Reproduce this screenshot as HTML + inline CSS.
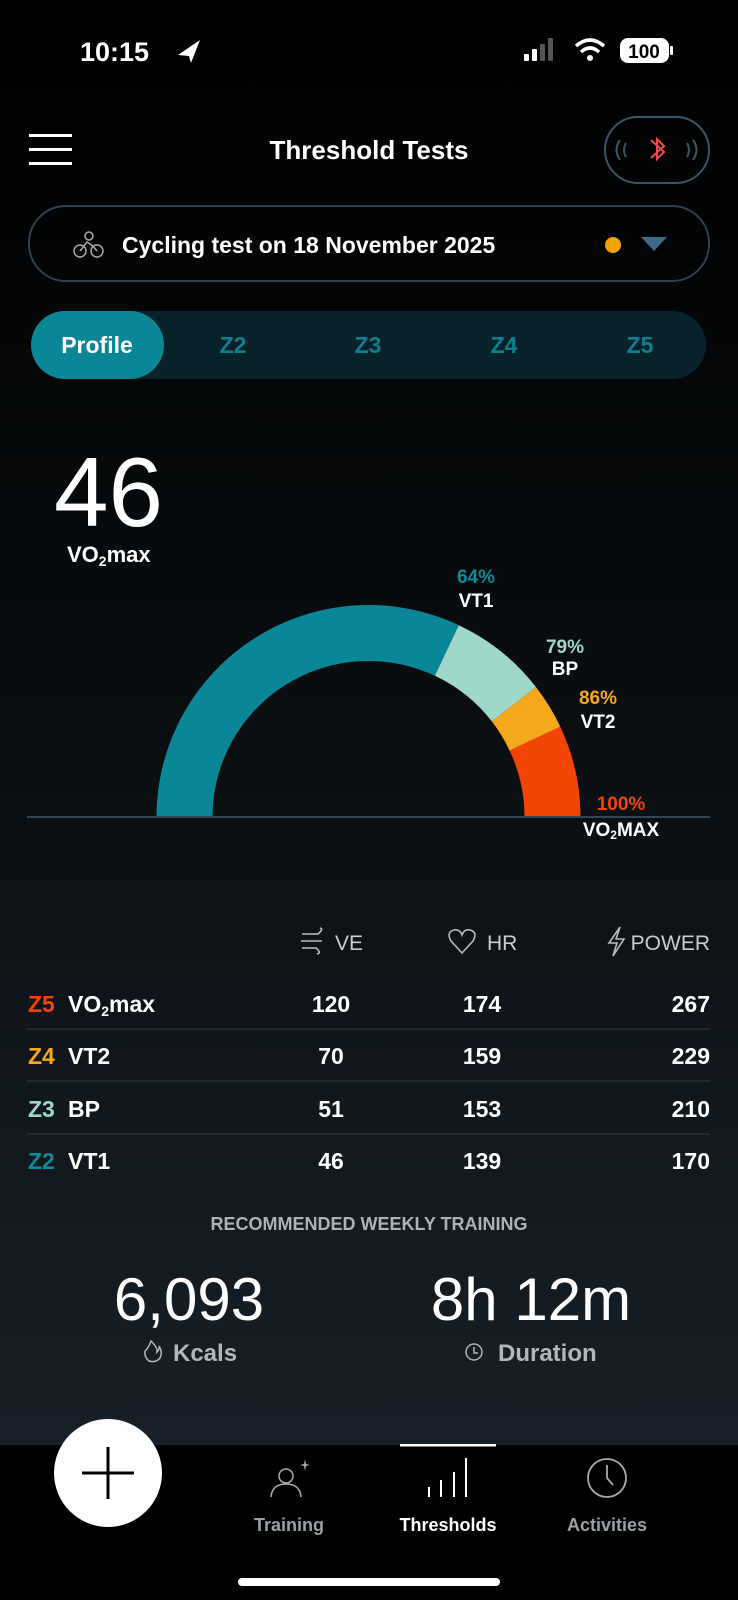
<!DOCTYPE html>
<html><head><meta charset="utf-8"><style>
html,body{margin:0;padding:0;background:#000;}
body{width:738px;height:1600px;overflow:hidden;}
svg{display:block}
text{font-family:"Liberation Sans",sans-serif;}
</style></head><body>
<svg width="738" height="1600" viewBox="0 0 738 1600" xmlns="http://www.w3.org/2000/svg">
<defs>
<linearGradient id="bg" x1="0" y1="0" x2="0" y2="1445" gradientUnits="userSpaceOnUse">
<stop offset="0" stop-color="#000"/>
<stop offset="0.25" stop-color="#040607"/>
<stop offset="0.6" stop-color="#0c1115"/>
<stop offset="1" stop-color="#172028"/>
</linearGradient>
</defs>
<rect width="738" height="1600" fill="url(#bg)"/>
<!-- status bar -->
<text x="80" y="61" font-size="27" font-weight="bold" fill="#fff">10:15</text>
<path d="M178 55 L200 40 L191 63 L189 56 Z" fill="#fff"/>
<rect x="524" y="54" width="5" height="7" rx="1" fill="#fff"/>
<rect x="532" y="49" width="5" height="12" rx="1" fill="#fff"/>
<rect x="540" y="44" width="5" height="17" rx="1" fill="#555"/>
<rect x="548" y="38" width="5" height="23" rx="1" fill="#555"/>
<path d="M576 46 Q590 34 604 46" stroke="#fff" stroke-width="3.5" fill="none"/>
<path d="M581 52 Q590 44 599 52" stroke="#fff" stroke-width="3.5" fill="none"/>
<circle cx="590" cy="58" r="3" fill="#fff"/>
<rect x="620" y="38" width="49" height="25" rx="8" fill="#fff"/>
<rect x="670" y="46" width="3" height="9" rx="1" fill="#fff"/>
<text x="644" y="58" font-size="19" font-weight="bold" fill="#000" text-anchor="middle">100</text>
<!-- header -->
<rect x="29" y="134" width="43" height="3" fill="#fff"/>
<rect x="29" y="148" width="43" height="3" fill="#fff"/>
<rect x="29" y="162" width="43" height="3" fill="#fff"/>
<text x="369" y="159" font-size="26" font-weight="bold" fill="#fff" text-anchor="middle">Threshold Tests</text>
<rect x="605" y="117" width="104" height="66" rx="33" fill="none" stroke="#3a5566" stroke-width="2"/>
<path d="M620 140 Q613 150 620 160 M626 143 Q622 150 626 157 M693 140 Q700 150 693 160 M687 143 Q691 150 687 157" stroke="#3a5566" stroke-width="2" fill="none"/>
<path d="M651 140 L664 152 L657 159 L657 139 L664 146 L651 158" stroke="#f04a4a" stroke-width="2" fill="none"/>
<!-- dropdown -->
<rect x="29" y="206" width="680" height="75" rx="37" fill="none" stroke="#2f4150" stroke-width="2"/>
<circle cx="89" cy="236" r="4" fill="none" stroke="#aaa" stroke-width="1.5"/>
<circle cx="80" cy="251" r="6" fill="none" stroke="#aaa" stroke-width="1.5"/>
<circle cx="97" cy="251" r="6" fill="none" stroke="#aaa" stroke-width="1.5"/>
<path d="M80 251 L87 242 L93 246 L97 251" stroke="#aaa" stroke-width="1.5" fill="none"/>
<text x="122" y="253" font-size="23" font-weight="bold" fill="#fff">Cycling test on 18 November 2025</text>
<circle cx="613" cy="245" r="8" fill="#f5a300"/>
<path d="M641 237 L667 237 L654 251 Z" fill="#3d6a8a"/>
<!-- segments -->
<rect x="31" y="311" width="675" height="68" rx="34" fill="#07222a"/>
<rect x="31" y="311" width="133" height="68" rx="34" fill="#0a8696"/>
<text x="97" y="353" font-size="23" font-weight="bold" fill="#fff" text-anchor="middle">Profile</text>
<text x="233" y="353" font-size="23" font-weight="bold" fill="#0f7f8e" text-anchor="middle">Z2</text>
<text x="368" y="353" font-size="23" font-weight="bold" fill="#0f7f8e" text-anchor="middle">Z3</text>
<text x="504" y="353" font-size="23" font-weight="bold" fill="#0f7f8e" text-anchor="middle">Z4</text>
<text x="640" y="353" font-size="23" font-weight="bold" fill="#0f7f8e" text-anchor="middle">Z5</text>
<!-- VO2max -->
<text x="54" y="526" font-size="98" fill="#fff">46</text>
<text x="67" y="562" font-size="22" font-weight="bold" fill="#fff">VO<tspan font-size="14" dy="4">2</tspan><tspan dy="-4">max</tspan></text>
<!-- arc -->
<path d="M156.5 817 A212 212 0 0 1 458.8 625.2 L434.9 675.8 A156 156 0 0 0 212.5 817 Z" fill="#0a8696"/>
<path d="M458.8 625.2 A212 212 0 0 1 536 687.1 L491.8 721.4 A156 156 0 0 0 434.9 675.8 Z" fill="#9fd8c8"/>
<path d="M536 687.1 A212 212 0 0 1 560.3 726.7 L509.6 750.6 A156 156 0 0 0 491.8 721.4 Z" fill="#f5a81c"/>
<path d="M560.3 726.7 A212 212 0 0 1 580.5 817 L524.5 817 A156 156 0 0 0 509.6 750.6 Z" fill="#f24405"/>
<rect x="27" y="816" width="683" height="2" fill="#2e4656"/>
<g font-size="19" font-weight="bold" text-anchor="middle">
<text x="476" y="583" fill="#0f8a99">64%</text>
<text x="476" y="607" fill="#fff">VT1</text>
<text x="565" y="653" fill="#9fd8c8">79%</text>
<text x="565" y="675" fill="#fff">BP</text>
<text x="598" y="704" fill="#f5a81c">86%</text>
<text x="598" y="728" fill="#fff">VT2</text>
<text x="621" y="810" fill="#f24405">100%</text>
<text x="621" y="836" fill="#fff">VO<tspan font-size="12" dy="3">2</tspan><tspan dy="-3">MAX</tspan></text>
</g>
<!-- table header -->
<g stroke="#bbb" stroke-width="1.6" fill="none">
<path d="M302 934 L318 934 Q324 929 320 928 M301 941 L322 941 M302 948 L316 948 Q322 953 317 954"/>
<path d="M462 953 L451 941 Q446 932 454 930 Q460 929 462 935 Q464 929 470 930 Q478 932 473 941 Z"/>
<path d="M620 927 L609 943 L617 943 L613 956 L624 939 L616 939 Z"/>
</g>
<g font-size="21" fill="#c8cdd0">
<text x="335" y="950">VE</text>
<text x="487" y="950">HR</text>
<text x="710" y="950" text-anchor="end">POWER</text>
</g>
<!-- rows -->
<g stroke="#243039" stroke-width="1.5">
<line x1="27" y1="1029" x2="710" y2="1029"/>
<line x1="27" y1="1081" x2="710" y2="1081"/>
<line x1="27" y1="1134" x2="710" y2="1134"/>
</g>
<g font-size="23" font-weight="bold">
<text x="28" y="1012" fill="#f24405">Z5</text>
<text x="68" y="1012" fill="#fff">VO<tspan font-size="14" dy="4">2</tspan><tspan dy="-4">max</tspan></text>
<text x="28" y="1064" fill="#f5a81c">Z4</text>
<text x="68" y="1064" fill="#fff">VT2</text>
<text x="28" y="1117" fill="#9fd8c8">Z3</text>
<text x="68" y="1117" fill="#fff">BP</text>
<text x="28" y="1169" fill="#0f8a99">Z2</text>
<text x="68" y="1169" fill="#fff">VT1</text>
</g>
<g font-size="23" font-weight="bold" fill="#fff" text-anchor="middle">
<text x="331" y="1012">120</text><text x="482" y="1012">174</text>
<text x="331" y="1064">70</text><text x="482" y="1064">159</text>
<text x="331" y="1117">51</text><text x="482" y="1117">153</text>
<text x="331" y="1169">46</text><text x="482" y="1169">139</text>
</g>
<g font-size="23" font-weight="bold" fill="#fff" text-anchor="end">
<text x="710" y="1012">267</text><text x="710" y="1064">229</text>
<text x="710" y="1117">210</text><text x="710" y="1169">170</text>
</g>
<!-- recommended -->
<text x="369" y="1230" font-size="18" font-weight="bold" fill="#aab3b8" text-anchor="middle">RECOMMENDED WEEKLY TRAINING</text>
<text x="189" y="1320" font-size="60" fill="#fff" text-anchor="middle">6,093</text>
<text x="531" y="1320" font-size="60" fill="#fff" text-anchor="middle">8h 12m</text>
<path d="M151 1341 Q158 1348 157 1352 Q160 1349 159 1346 Q163 1352 160 1358 Q156 1363 149 1361 Q144 1357 145 1351 Q148 1349 151 1341 Z" stroke="#b0b8bc" stroke-width="1.5" fill="none"/>
<text x="173" y="1361" font-size="24" font-weight="bold" fill="#b0b8bc">Kcals</text>
<circle cx="474" cy="1352" r="8" stroke="#b0b8bc" stroke-width="1.5" fill="none"/>
<path d="M474 1347 L474 1353 L478 1353" stroke="#b0b8bc" stroke-width="1.5" fill="none"/>
<text x="498" y="1361" font-size="24" font-weight="bold" fill="#b0b8bc">Duration</text>
<!-- tab bar -->
<rect x="0" y="1445" width="738" height="155" fill="#000"/>
<rect x="400" y="1444" width="96" height="2.5" fill="#fff"/>
<circle cx="108" cy="1473" r="54" fill="#fff"/>
<path d="M82 1473 L134 1473 M108 1447 L108 1499" stroke="#000" stroke-width="3"/>
<circle cx="286" cy="1476" r="7" stroke="#aaa" stroke-width="1.5" fill="none"/>
<path d="M271 1497 Q272 1484 286 1484 Q300 1484 301 1497" stroke="#aaa" stroke-width="1.5" fill="none"/>
<path d="M305 1459 L306 1464 L310 1465 L306 1466 L305 1471 L304 1466 L300 1465 L304 1464 Z" fill="#aaa"/>
<g stroke="#fff" stroke-width="2">
<line x1="429" y1="1487" x2="429" y2="1497"/><line x1="441" y1="1480" x2="441" y2="1497"/>
<line x1="454" y1="1472" x2="454" y2="1497"/><line x1="466" y1="1458" x2="466" y2="1497"/>
</g>
<circle cx="607" cy="1478" r="19" stroke="#aaa" stroke-width="1.8" fill="none"/>
<path d="M607 1465 L607 1478 L613 1485" stroke="#aaa" stroke-width="1.8" fill="none"/>
<g font-size="18" font-weight="bold" text-anchor="middle">
<text x="289" y="1531" fill="#9aa0a4">Training</text>
<text x="448" y="1531" fill="#fff">Thresholds</text>
<text x="607" y="1531" fill="#9aa0a4">Activities</text>
</g>
<rect x="238" y="1578" width="262" height="8" rx="4" fill="#fff"/>
</svg>
</body></html>
